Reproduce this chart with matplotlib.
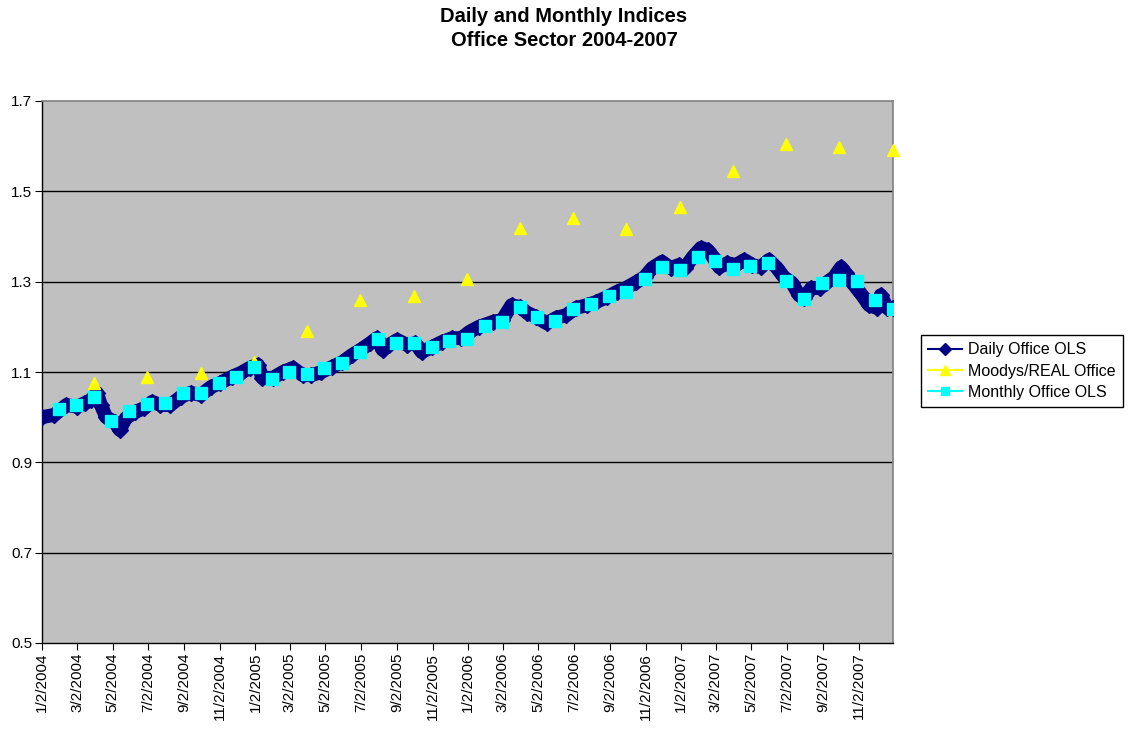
import matplotlib
matplotlib.use("Agg")
import matplotlib.pyplot as plt
from matplotlib.lines import Line2D
import pandas as pd

plt.rcParams['font.family'] = ['Liberation Sans', 'DejaVu Sans']

# daily index (not every trading day)
daily_dates = [
    "2004-01-02", "2004-01-23", "2004-02-13", "2004-03-02", "2004-03-15", "2004-03-26",
    "2004-04-05", "2004-04-12", "2004-04-21", "2004-05-06", "2004-05-14", "2004-05-25",
    "2004-06-09", "2004-06-25", "2004-07-09", "2004-07-23", "2004-08-09", "2004-08-27",
    "2004-09-13", "2004-09-30", "2004-10-18", "2004-11-03", "2004-11-22", "2004-12-08",
    "2004-12-23", "2005-01-06", "2005-01-14", "2005-02-01", "2005-02-18", "2005-03-07",
    "2005-03-24", "2005-04-08", "2005-04-25", "2005-05-13", "2005-05-31", "2005-06-17",
    "2005-07-01", "2005-07-18", "2005-07-29", "2005-08-08", "2005-08-19", "2005-09-02",
    "2005-09-19", "2005-10-03", "2005-10-14", "2005-10-31", "2005-11-17", "2005-12-05",
    "2005-12-21", "2006-01-04", "2006-01-20", "2006-02-13", "2006-03-01", "2006-03-17",
    "2006-03-31", "2006-04-13", "2006-04-28", "2006-05-16", "2006-06-02", "2006-06-19",
    "2006-07-06", "2006-07-24", "2006-08-09", "2006-08-28", "2006-09-13", "2006-09-29",
    "2006-10-17", "2006-10-31", "2006-11-13", "2006-11-30", "2006-12-15", "2006-12-29",
    "2007-01-08", "2007-01-22", "2007-02-05", "2007-02-16", "2007-02-23", "2007-03-08",
    "2007-03-22", "2007-04-06", "2007-04-20", "2007-05-04", "2007-05-18", "2007-06-01",
    "2007-06-14", "2007-06-27", "2007-07-11", "2007-07-23", "2007-08-01", "2007-08-13",
    "2007-08-27", "2007-09-07", "2007-09-21", "2007-10-03", "2007-10-11", "2007-10-25",
    "2007-11-08", "2007-11-20", "2007-12-03", "2007-12-10", "2007-12-21", "2007-12-31",
]
daily_values = [
    1.000, 1.005, 1.027, 1.023, 1.031, 1.038,
    1.054, 1.027, 1.000, 0.989, 0.972, 0.998,
    1.011, 1.020, 1.034, 1.027, 1.027, 1.045,
    1.054, 1.049, 1.067, 1.076, 1.089, 1.098,
    1.109, 1.116, 1.087, 1.087, 1.100, 1.109,
    1.093, 1.093, 1.100, 1.111, 1.122, 1.138,
    1.149, 1.164, 1.175, 1.149, 1.160, 1.171,
    1.160, 1.164, 1.144, 1.155, 1.166, 1.175,
    1.175, 1.189, 1.200, 1.211, 1.215, 1.248,
    1.244, 1.231, 1.222, 1.208, 1.220, 1.226,
    1.242, 1.248, 1.255, 1.266, 1.277, 1.286,
    1.299, 1.310, 1.330, 1.344, 1.330, 1.337,
    1.330, 1.355, 1.375, 1.370, 1.359, 1.332,
    1.341, 1.337, 1.348, 1.337, 1.332, 1.348,
    1.332, 1.310, 1.297, 1.270, 1.264, 1.286,
    1.286, 1.297, 1.310, 1.332, 1.319, 1.293,
    1.270, 1.248, 1.242, 1.270, 1.242, 1.242,
]

# monthly OLS index, month ends 2004-01 .. 2007-12
monthly_values = [
    1.018, 1.027, 1.045, 0.992, 1.014, 1.029, 1.031, 1.054, 1.054, 1.076, 1.089, 1.111,
    1.085, 1.100, 1.096, 1.109, 1.120, 1.144, 1.173, 1.164, 1.164, 1.155, 1.169, 1.173,
    1.202, 1.211, 1.244, 1.222, 1.213, 1.240, 1.251, 1.268, 1.277, 1.306, 1.332, 1.326,
    1.355, 1.346, 1.328, 1.335, 1.341, 1.301, 1.262, 1.297, 1.304, 1.301, 1.259, 1.240,
]

# Moodys/REAL, quarter ends 2004Q1 .. 2007Q4
moodys_values = [
    1.076, 1.089, 1.098, 1.122,
    1.191, 1.259, 1.268, 1.306,
    1.419, 1.441, 1.417, 1.465,
    1.545, 1.605, 1.598, 1.592,
]

y_ticks = [0.5, 0.7, 0.9, 1.1, 1.3, 1.5, 1.7]
tick_years = [2004, 2005, 2006, 2007]
tick_months = [1, 3, 5, 7, 9, 11]

daily_x = pd.to_datetime(daily_dates)
monthly_x = pd.date_range("2004-01-31", periods=len(monthly_values), freq="ME")
moodys_x = pd.date_range("2004-03-31", periods=len(moodys_values), freq="QE")
tick_x = [pd.Timestamp(y, m, 2) for y in tick_years for m in tick_months]

fig = plt.figure(figsize=(11.28, 7.32), dpi=100)
ax = fig.add_axes([42 / 1128, 1 - 643 / 732, (893 - 42) / 1128, (643 - 101) / 732])
ax.set_facecolor("#C0C0C0")

for y in y_ticks[1:-1]:
    ax.axhline(y, color="black", lw=1.0, zorder=1)

ax.plot(daily_x, daily_values, color="#000080", lw=10, marker="D", ms=8,
        mec="#000080", mfc="#000080", zorder=3)
ax.plot(moodys_x, moodys_values, ls="none", marker="^", ms=9,
        mfc="#FFFF00", mec="#FFFF00", zorder=4, clip_on=False)
ax.plot(monthly_x, monthly_values, ls="none", marker="s", ms=8,
        mfc="#00FFFF", mec="#00FFFF", zorder=5)

ax.set_ylim(0.5, 1.7)
ax.set_yticks(y_ticks)
ax.set_yticklabels(["%.1f" % v for v in y_ticks], fontsize=11)
ax.set_xlim(pd.Timestamp("2004-01-02"), pd.Timestamp("2007-12-31"))
ax.set_xticks(tick_x)
ax.set_xticklabels(["%d/%d/%d" % (d.month, d.day, d.year) for d in tick_x],
                   rotation=90, fontsize=11)
ax.tick_params(direction="out", length=5, color="black", pad=2)

for s in ["top", "right"]:
    ax.spines[s].set_color("#808080")
    ax.spines[s].set_linewidth(1.2)
for s in ["left", "bottom"]:
    ax.spines[s].set_color("black")
    ax.spines[s].set_linewidth(1.0)

fig.text(0.5, 1 - 17 / 732, "Daily and Monthly Indices", ha="center", va="center",
         fontsize=14.5, fontweight="bold")
fig.text(0.5, 1 - 41 / 732, "Office Sector 2004-2007", ha="center", va="center",
         fontsize=14.5, fontweight="bold")

handles = [
    Line2D([], [], color="#000080", lw=1.5, marker="D", ms=6, mfc="#000080", mec="#000080"),
    Line2D([], [], color="#FFFF00", lw=1.5, marker="^", ms=7, mfc="#FFFF00", mec="#FFFF00"),
    Line2D([], [], color="#00FFFF", lw=1.5, marker="s", ms=6, mfc="#00FFFF", mec="#00FFFF"),
]
labels = ["Daily Office OLS", "Moodys/REAL Office", "Monthly Office OLS"]
leg = fig.legend(handles, labels, loc="upper left", bbox_to_anchor=(921 / 1128, 1 - 335 / 732),
                 fontsize=11.5, frameon=True, fancybox=False, framealpha=1,
                 edgecolor="black", handlelength=2.1, handletextpad=0.4,
                 borderpad=0.45, labelspacing=0.4, borderaxespad=0)
leg.get_frame().set_linewidth(1.0)

fig.savefig("out.png", dpi=100)
